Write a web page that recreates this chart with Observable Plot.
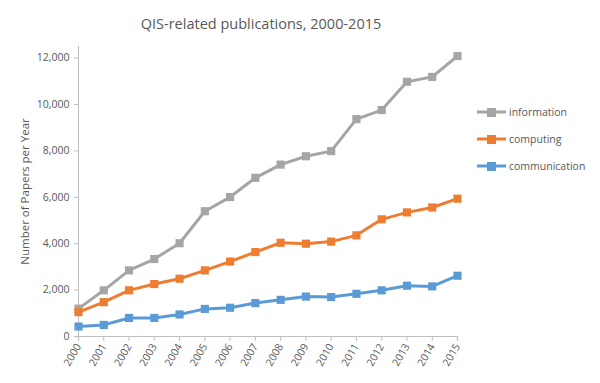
<!DOCTYPE html>
<html>
<head>
<meta charset="utf-8">
<script src="https://cdn.jsdelivr.net/npm/d3@7"></script>
<script src="https://cdn.jsdelivr.net/npm/@observablehq/plot@0.6"></script>
<style>
  html, body { margin: 0; padding: 0; background: #fff; }
  #wrap { position: relative; width: 600px; height: 383px; font-family: "Open Sans", sans-serif; }
  .legend { position: absolute; left: 476px; font-size: 10.5px; color: #595959; display: flex; align-items: center; }
  .legend svg { margin-right: 2px; }
</style>
</head>
<body>
<div id="wrap"></div>
<script>
const years = [2000,2001,2002,2003,2004,2005,2006,2007,2008,2009,2010,2011,2012,2013,2014,2015];
const information = [1200,1990,2850,3340,4020,5400,6010,6840,7410,7770,7990,9370,9760,10980,11190,12090];
const computing = [1050,1480,1990,2260,2490,2850,3230,3640,4040,4000,4090,4360,5050,5350,5560,5940];
const communication = [430,500,800,800,950,1190,1240,1440,1580,1720,1700,1840,1990,2190,2160,2620];
const seriesNames = ["information","computing","communication"];
const seriesColors = ["#A5A5A5","#ED7D31","#5B9BD5"];
const yTicks = [0,2000,4000,6000,8000,10000,12000];
const titleText = "QIS-related publications, 2000-2015";
const yLabel = "Number of Papers per Year";

const seriesValues = [information, computing, communication];
const rows = [];
seriesNames.forEach((name, i) => {
  years.forEach((yr, j) => rows.push({series: name, year: yr, value: seriesValues[i][j]}));
});

const fmt = d3.format(",");
const textColor = "#595959";

const chart = Plot.plot({
  width: 600,
  height: 383,
  marginLeft: 78,
  marginRight: 143,
  marginTop: 46,
  marginBottom: 47,
  style: {fontFamily: "Open Sans, sans-serif", fontSize: "10.5px", color: textColor, background: "#fff"},
  x: {domain: [2000, 2015], axis: null},
  y: {domain: [0, 12500], axis: null},
  color: {domain: seriesNames, range: seriesColors},
  marks: [
    Plot.ruleX([2000], {stroke: "#bfbfbf", strokeWidth: 1}),
    Plot.axisY({ticks: yTicks, tickFormat: fmt, tickSize: 4, tickPadding: 5, stroke: "#bfbfbf", color: textColor, label: null, fontSize: 10.5}),
    Plot.axisY({ticks: [], label: yLabel, labelAnchor: "center", labelArrow: "none", labelOffset: 58, color: textColor, fontSize: 11.5}),
    Plot.ruleY([0], {stroke: "#bfbfbf", strokeWidth: 1}),
    Plot.axisX({ticks: years, tickFormat: d => String(d), tickSize: 5, tickPadding: 3, tickRotate: -60, stroke: "#bfbfbf", color: textColor, label: null, fontSize: 10.5}),
    Plot.line(rows, {x: "year", y: "value", z: "series", stroke: "series", strokeWidth: 3}),
    Plot.dot(rows, {x: "year", y: "value", fill: "series", symbol: "square", r: 4.6, stroke: null}),
    Plot.text([titleText], {frameAnchor: "top", dy: -28, dx: -7, fontSize: 14.5, fill: textColor})
  ]
});

const wrap = document.getElementById("wrap");
wrap.appendChild(chart);

const legendY = [112, 139, 166];
seriesNames.forEach((name, i) => {
  const div = document.createElement("div");
  div.className = "legend";
  div.style.top = (legendY[i] - 8) + "px";
  div.innerHTML = `<svg width="31" height="16"><line x1="1" y1="8" x2="30" y2="8" stroke="${seriesColors[i]}" stroke-width="3"/><rect x="11" y="4" width="9" height="9" fill="${seriesColors[i]}"/></svg><span>${name}</span>`;
  wrap.appendChild(div);
});
</script>
</body>
</html>
